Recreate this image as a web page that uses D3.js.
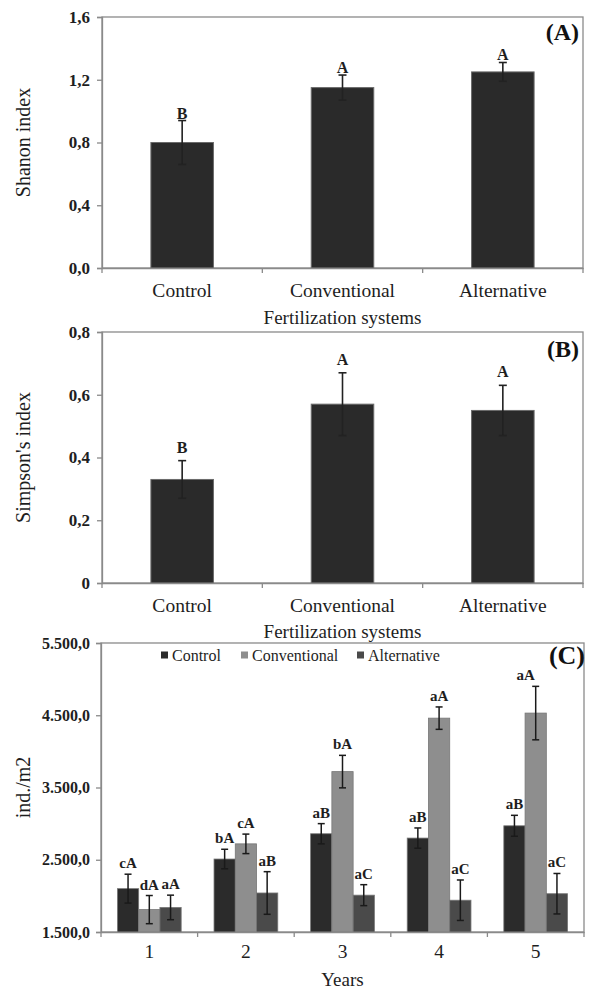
<!DOCTYPE html>
<html>
<head>
<meta charset="utf-8">
<script src="https://cdn.jsdelivr.net/npm/d3@7"></script>
<style>
  body { margin: 0; background: #fff; }
  svg { display: block; font-family: "Liberation Serif", "Times New Roman", serif; }
</style>
</head>
<body>
<svg width="589" height="990"></svg>
<script>
// panels A and B: fertilization systems
var systems = ["Control", "Conventional", "Alternative"];
var shannonMean = [0.80, 1.15, 1.25];
var shannonErr = [0.14, 0.08, 0.06];
var shannonLetters = ["B", "A", "A"];
var shannonTicks = [0, 0.4, 0.8, 1.2, 1.6];

var simpsonMean = [0.33, 0.57, 0.55];
var simpsonErr = [0.06, 0.10, 0.08];
var simpsonLetters = ["B", "A", "A"];
var simpsonTicks = [0, 0.2, 0.4, 0.6, 0.8];

// panel C: density per year
var years = ["1", "2", "3", "4", "5"];
var seriesNames = ["Control", "Conventional", "Alternative"];
var controlMean = [2100, 2510, 2860, 2800, 2970];
var controlErr = [200, 135, 140, 140, 145];
var controlLetters = ["cA", "bA", "aB", "aB", "aB"];
var conventionalMean = [1810, 2720, 3720, 4460, 4530];
var conventionalErr = [195, 135, 225, 155, 370];
var conventionalLetters = ["dA", "cA", "bA", "aA", "aA"];
var alternativeMean = [1840, 2040, 2010, 1940, 2030];
var alternativeErr = [170, 295, 145, 280, 280];
var alternativeLetters = ["aA", "aB", "aC", "aC", "aC"];
var densityTicks = [1500, 2500, 3500, 4500, 5500];

var locale = d3.formatLocale({ decimal: ",", thousands: ".", grouping: [3], currency: ["", ""] });
var f1 = locale.format(".1f");
var fThousands = locale.format(",.1f");

var svg = d3.select("svg");
var txtColor = "#1e1e1e";
var frameColor = "#8a8a8a";

function styleAxis(g, fontSize) {
    g.select(".domain").attr("stroke", frameColor).attr("stroke-width", 1.3);
    g.selectAll(".tick line").attr("stroke", frameColor).attr("stroke-width", 1.3);
    g.selectAll(".tick text").attr("fill", txtColor)
        .style("font-size", fontSize + "px").style("font-family", "Liberation Serif")
        .attr("font-weight", "bold");
}

// draws the boundary ticks under a band axis
function bandTicks(g, x, y0) {
    var edges = d3.range(x.domain().length + 1).map(i => x.range()[0] + i * x.step());
    g.selectAll("line.edge").data(edges).enter().append("line")
        .attr("class", "edge")
        .attr("x1", d => d).attr("x2", d => d)
        .attr("y1", y0).attr("y2", y0 + 5)
        .attr("stroke", frameColor).attr("stroke-width", 1.3);
}

function simplePanel(cfg) {
    var x = d3.scaleBand().domain(systems)
        .range([cfg.left, cfg.right]).paddingInner(0.61).paddingOuter(0.305);
    var y = d3.scaleLinear().domain([cfg.ticks[0], cfg.ticks[cfg.ticks.length - 1]])
        .range([cfg.bottom, cfg.top]);
    var g = svg.append("g");

    // frame
    g.append("rect").attr("x", cfg.left).attr("y", cfg.top)
        .attr("width", cfg.right - cfg.left).attr("height", cfg.bottom - cfg.top)
        .attr("fill", "none").attr("stroke", frameColor).attr("stroke-width", 1.3);

    var data = systems.map((s, i) => ({ s: s, m: cfg.mean[i], e: cfg.err[i], l: cfg.letters[i] }));

    g.selectAll("rect.bar").data(data).enter().append("rect")
        .attr("class", "bar")
        .attr("x", d => x(d.s)).attr("width", x.bandwidth())
        .attr("y", d => y(d.m)).attr("height", d => y(0) - y(d.m))
        .attr("fill", "#2a2a2a").attr("stroke", "#6a6a6a").attr("stroke-width", 1);

    var eb = g.selectAll("g.err").data(data).enter().append("g").attr("class", "err")
        .attr("stroke", "#222").attr("stroke-width", 1.6);
    eb.append("line")
        .attr("x1", d => x(d.s) + x.bandwidth() / 2).attr("x2", d => x(d.s) + x.bandwidth() / 2)
        .attr("y1", d => y(d.m - d.e)).attr("y2", d => y(d.m + d.e));
    eb.append("line")
        .attr("x1", d => x(d.s) + x.bandwidth() / 2 - 4).attr("x2", d => x(d.s) + x.bandwidth() / 2 + 4)
        .attr("y1", d => y(d.m - d.e)).attr("y2", d => y(d.m - d.e));
    eb.append("line")
        .attr("x1", d => x(d.s) + x.bandwidth() / 2 - 4).attr("x2", d => x(d.s) + x.bandwidth() / 2 + 4)
        .attr("y1", d => y(d.m + d.e)).attr("y2", d => y(d.m + d.e));

    g.selectAll("text.sig").data(data).enter().append("text")
        .attr("class", "sig")
        .attr("x", d => x(d.s) + x.bandwidth() / 2)
        .attr("y", d => y(d.m + d.e) - cfg.labelGap)
        .attr("text-anchor", "middle").attr("font-size", 16).attr("font-weight", "bold")
        .attr("fill", txtColor).text(d => d.l);

    var ya = g.append("g").attr("transform", "translate(" + cfg.left + ",0)")
        .call(d3.axisLeft(y).tickValues(cfg.ticks).tickSize(5).tickPadding(7).tickFormat(cfg.fmt));
    styleAxis(ya, 17);

    var xa = g.append("g").attr("transform", "translate(0," + cfg.bottom + ")")
        .call(d3.axisBottom(x).tickSize(0).tickPadding(15));
    styleAxis(xa, 19.5);
    xa.selectAll(".tick text").attr("font-weight", "normal");
    bandTicks(g, x, cfg.bottom);

    g.append("text")
        .attr("transform", "translate(" + cfg.yTitleX + "," + ((cfg.top + cfg.bottom) / 2) + ") rotate(-90)")
        .attr("text-anchor", "middle").attr("dy", "0.35em")
        .attr("font-size", 20).attr("fill", txtColor).text(cfg.yTitle);

    g.append("text").attr("x", (cfg.left + cfg.right) / 2).attr("y", cfg.xTitleY)
        .attr("text-anchor", "middle").attr("font-size", 19).attr("fill", txtColor)
        .text("Fertilization systems");

    g.append("text").attr("x", cfg.right - 4).attr("y", cfg.tagY)
        .attr("text-anchor", "end").attr("font-size", 24).attr("font-weight", "bold")
        .attr("fill", "#111").text(cfg.tag);
}

simplePanel({
    left: 102, right: 583, top: 17, bottom: 268,
    mean: shannonMean, err: shannonErr, letters: shannonLetters,
    ticks: shannonTicks, fmt: d => f1(d), labelGap: 2,
    yTitle: "Shanon index", yTitleX: 23, xTitleY: 324, tag: "(A)", tagY: 40
});

simplePanel({
    left: 102, right: 583, top: 332, bottom: 583,
    mean: simpsonMean, err: simpsonErr, letters: simpsonLetters,
    ticks: simpsonTicks, fmt: d => d === 0 ? "0" : f1(d), labelGap: 8,
    yTitle: "Simpson's index", yTitleX: 23, xTitleY: 638, tag: "(B)", tagY: 357
});

// ---- panel C ----
(function () {
    var left = 101, right = 584, top = 643, bottom = 932;
    var colors = { Control: "#2b2b2b", Conventional: "#8e8e8e", Alternative: "#4a4a4a" };
    var means = { Control: controlMean, Conventional: conventionalMean, Alternative: alternativeMean };
    var errs = { Control: controlErr, Conventional: conventionalErr, Alternative: alternativeErr };
    var letters = { Control: controlLetters, Conventional: conventionalLetters, Alternative: alternativeLetters };

    var x0 = d3.scaleBand().domain(years).range([left, right]).paddingInner(0.34).paddingOuter(0.17);
    var x1 = d3.scaleBand().domain(seriesNames).range([0, x0.bandwidth()]);
    var y = d3.scaleLinear().domain([1500, 5500]).range([bottom, top]);
    var g = svg.append("g");

    g.append("rect").attr("x", left).attr("y", top)
        .attr("width", right - left).attr("height", bottom - top)
        .attr("fill", "none").attr("stroke", frameColor).attr("stroke-width", 1.3);

    var flat = [];
    years.forEach((yr, i) => seriesNames.forEach(s => {
        flat.push({ yr: yr, s: s, m: means[s][i], e: errs[s][i], l: letters[s][i] });
    }));
    var cx = d => x0(d.yr) + x1(d.s) + x1.bandwidth() / 2;

    g.selectAll("rect.bar").data(flat).enter().append("rect")
        .attr("class", "bar")
        .attr("x", d => x0(d.yr) + x1(d.s)).attr("width", x1.bandwidth())
        .attr("y", d => y(d.m)).attr("height", d => y(1500) - y(d.m))
        .attr("fill", d => colors[d.s]).attr("stroke", "#777").attr("stroke-width", 0.8);

    var eb = g.selectAll("g.err").data(flat).enter().append("g").attr("class", "err")
        .attr("stroke", "#1a1a1a").attr("stroke-width", 1.5);
    eb.append("line").attr("x1", cx).attr("x2", cx)
        .attr("y1", d => y(d.m - d.e)).attr("y2", d => y(d.m + d.e));
    eb.append("line").attr("x1", d => cx(d) - 3.5).attr("x2", d => cx(d) + 3.5)
        .attr("y1", d => y(d.m - d.e)).attr("y2", d => y(d.m - d.e));
    eb.append("line").attr("x1", d => cx(d) - 3.5).attr("x2", d => cx(d) + 3.5)
        .attr("y1", d => y(d.m + d.e)).attr("y2", d => y(d.m + d.e));

    g.selectAll("text.sig").data(flat).enter().append("text")
        .attr("class", "sig")
        // the last label is nudged left, clear of the (C) tag
        .attr("x", d => cx(d) - (d.yr === "5" && d.s === "Conventional" ? 10 : 0))
        .attr("y", d => y(d.m + d.e) - 6)
        .attr("text-anchor", "middle").attr("font-size", 15).attr("font-weight", "bold")
        .attr("fill", txtColor).text(d => d.l);

    var ya = g.append("g").attr("transform", "translate(" + left + ",0)")
        .call(d3.axisLeft(y).tickValues(densityTicks).tickSize(5).tickPadding(6).tickFormat(fThousands));
    styleAxis(ya, 16);

    var xa = g.append("g").attr("transform", "translate(0," + bottom + ")")
        .call(d3.axisBottom(x0).tickSize(0).tickPadding(12));
    styleAxis(xa, 19.5);
    xa.selectAll(".tick text").attr("font-weight", "normal");
    bandTicks(g, x0, bottom);

    g.append("text")
        .attr("transform", "translate(23," + ((top + bottom) / 2) + ") rotate(-90)")
        .attr("text-anchor", "middle").attr("dy", "0.35em")
        .attr("font-size", 20).attr("fill", txtColor).text("ind./m2");

    g.append("text").attr("x", (left + right) / 2).attr("y", 986)
        .attr("text-anchor", "middle").attr("font-size", 19).attr("fill", txtColor).text("Years");

    g.append("text").attr("x", right + 1).attr("y", 664)
        .attr("text-anchor", "end").attr("font-size", 26).attr("font-weight", "bold")
        .attr("fill", "#111").text("(C)");

    // legend
    var legX = [161, 241, 357];
    var leg = g.selectAll("g.leg").data(seriesNames).enter().append("g").attr("class", "leg")
        .attr("transform", (d, i) => "translate(" + legX[i] + ",655)");
    leg.append("rect").attr("x", 0).attr("y", -3.5).attr("width", 7).attr("height", 7)
        .attr("fill", d => colors[d]);
    leg.append("text").attr("x", 11).attr("y", 5.5)
        .attr("font-size", 16).attr("fill", txtColor).text(d => d);
})();
</script>
</body>
</html>
